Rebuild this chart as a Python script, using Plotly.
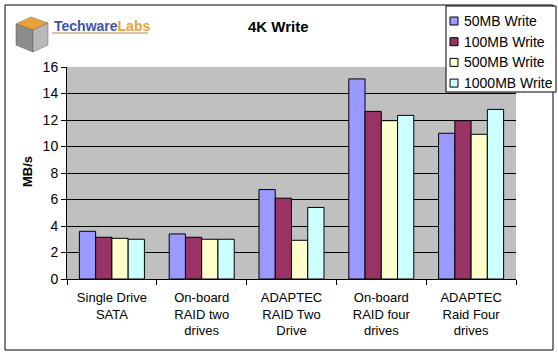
import plotly.graph_objects as go

categories = ["Single Drive<br>SATA", "On-board<br>RAID two<br>drives", "ADAPTEC<br>RAID Two<br>Drive",
              "On-board<br>RAID four<br>drives", "ADAPTEC<br>Raid Four<br>drives"]
series_names = ["50MB Write", "100MB Write", "500MB Write", "1000MB Write"]
w50 = [3.6, 3.4, 6.75, 15.1, 11.0]
w100 = [3.15, 3.15, 6.1, 12.65, 11.95]
w500 = [3.07, 3.0, 2.92, 11.95, 10.92]
w1000 = [3.0, 3.0, 5.4, 12.35, 12.8]
colors = ["#9999FF", "#993366", "#FFFFCC", "#CCFFFF"]

W, H = 558, 356
L, R, T, B = 67, 516, 67, 279

def px(x):
    return (x - L) / (R - L)

def py(y):
    return (B - y) / (B - T)

fig = go.Figure()
for name, vals, c in zip(series_names, [w50, w100, w500, w1000], colors):
    fig.add_trace(go.Bar(x=categories, y=vals, name=name, showlegend=False, hoverinfo="skip",
                         marker=dict(color=c, line=dict(color="black", width=1))))

shapes = [
    dict(type="rect", xref="paper", yref="paper", x0=px(5), x1=px(553), y0=py(350), y1=py(5),
         line=dict(color="black", width=1), layer="below"),
    # logo cube
    dict(type="path", xref="paper", yref="paper",
         path=f"M {px(16)} {py(24)} L {px(31)} {py(17)} L {px(48)} {py(23)} L {px(33)} {py(30)} Z",
         fillcolor="#e8a23a", line=dict(color="#8a6a30", width=0.5)),
    dict(type="path", xref="paper", yref="paper",
         path=f"M {px(16)} {py(24)} L {px(33)} {py(30)} L {px(33)} {py(52)} L {px(16)} {py(45)} Z",
         fillcolor="#8c8c8c", line=dict(color="#555555", width=0.5)),
    dict(type="path", xref="paper", yref="paper",
         path=f"M {px(33)} {py(30)} L {px(48)} {py(23)} L {px(48)} {py(45)} L {px(33)} {py(52)} Z",
         fillcolor="#b8b8b8", line=dict(color="#666666", width=0.5)),
    dict(type="line", xref="paper", yref="paper", x0=px(52), x1=px(148), y0=py(33), y1=py(33),
         line=dict(color="#b08a50", width=1)),
    # legend box
    dict(type="rect", xref="paper", yref="paper", x0=px(446), x1=px(556), y0=py(92), y1=py(6),
         fillcolor="white", line=dict(color="black", width=1)),
]

annotations = [
    dict(text="<b>4K Write</b>", x=px(278), y=py(26), xref="paper", yref="paper", showarrow=False,
         xanchor="center", yanchor="middle", font=dict(size=15, color="black")),
    dict(text="<b><span style='color:#3c55a5'>Techware</span><span style='color:#e8a23a'>Labs</span></b>",
         x=px(52), y=py(26), xref="paper", yref="paper", xanchor="left", yanchor="middle", showarrow=False,
         font=dict(size=14, family="Arial")),
    dict(text="<b>MB/s</b>", x=px(27), y=py(172), xref="paper", yref="paper", showarrow=False, textangle=-90,
         xanchor="center", yanchor="middle", font=dict(size=13, color="black")),
]

for i, (name, c) in enumerate(zip(series_names, colors)):
    yc = 21 + i * 20.7
    shapes.append(dict(type="rect", xref="paper", yref="paper", x0=px(450), x1=px(458),
                       y0=py(yc + 4), y1=py(yc - 4), fillcolor=c, line=dict(color="black", width=1)))
    annotations.append(dict(text=name, x=px(462), y=py(yc), xref="paper", yref="paper",
                            xanchor="left", yanchor="middle", showarrow=False,
                            font=dict(size=14, color="black")))

fig.update_layout(
    width=W, height=H,
    margin=dict(l=L, r=W - R, t=T, b=H - B, autoexpand=False),
    paper_bgcolor="white", plot_bgcolor="#C0C0C0",
    barmode="group", bargap=0.276, bargroupgap=0,
    font=dict(family="Liberation Sans, Arial, sans-serif", size=13, color="black"),
    showlegend=False,
    shapes=shapes, annotations=annotations,
)
fig.update_xaxes(showline=True, linecolor="black", linewidth=1, ticks="outside", tickson="boundaries",
                 ticklen=5, tickcolor="black", showgrid=False, mirror=False, ticklabelstandoff=6)
fig.update_yaxes(range=[0, 16], dtick=2, showline=True, linecolor="black", linewidth=1, ticks="outside",
                 ticklen=5, tickcolor="black", showgrid=True, gridcolor="black", gridwidth=1, zeroline=False,
                 tickfont=dict(size=14))

fig.write_html("out.html", config={"displayModeBar": False},
               post_script="document.body.style.margin='0';")
